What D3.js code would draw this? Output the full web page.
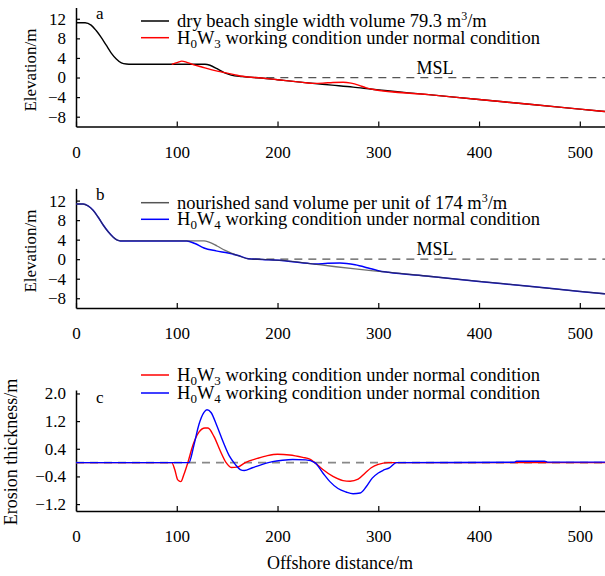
<!DOCTYPE html>
<html>
<head>
<meta charset="utf-8">
<script src="https://cdn.jsdelivr.net/npm/d3@7"></script>
<style>
  body { margin: 0; background: #fff; }
  svg text { font-family: "Liberation Serif", "Times New Roman", serif; }
</style>
</head>
<body>
<div id="chart"></div>
<script>
'use strict';

// panel a: profiles (offshore distance / elevation)
var dryBeachX = [0, 9, 15, 20, 25, 30, 35, 40, 45, 50, 55, 128, 133, 140, 147, 154, 165, 184, 200, 225, 254, 275, 294, 350, 400, 450, 500, 525];
var dryBeachY = [11.2, 11.2, 10.7, 9.6, 8.2, 6.6, 5.0, 3.8, 3.0, 2.75, 2.7, 2.7, 2.5, 1.8, 1.0, 0.5, 0.2, -0.1, -0.45, -1.0, -1.55, -1.95, -2.4, -3.5, -4.5, -5.45, -6.45, -6.95];
var h0w3ProfX = [95, 101, 105, 110, 117, 124, 134, 144, 157, 165, 184, 200, 225, 235, 245, 255, 265, 273, 281, 288, 294, 350, 400, 450, 500, 525];
var h0w3ProfY = [2.7, 3.1, 3.35, 3.1, 2.6, 2.2, 1.6, 1.15, 0.6, 0.25, -0.1, -0.45, -1.0, -1.2, -1.15, -1.0, -0.95, -1.15, -1.6, -2.1, -2.4, -3.5, -4.5, -5.45, -6.45, -6.95];

// panel b
var nourishedX = [0, 7, 12, 17, 22, 27, 32, 37, 41, 44, 127, 132, 140, 148, 156, 164, 171, 185, 204, 230, 254, 277, 304, 350, 400, 450, 500, 525];
var nourishedY = [11.3, 11.3, 10.9, 10.0, 8.6, 7.0, 5.6, 4.5, 3.9, 3.75, 3.75, 3.5, 2.7, 1.8, 1.1, 0.5, 0.06, -0.05, -0.25, -0.85, -1.45, -2.0, -2.55, -3.5, -4.55, -5.55, -6.6, -7.1];
var h0w4ProfX = [0, 7, 12, 17, 22, 27, 32, 37, 41, 44, 110, 118, 127, 139, 151, 161, 171, 185, 204, 230, 237, 250, 262, 277, 290, 300, 310, 350, 400, 450, 500, 525];
var h0w4ProfY = [11.3, 11.3, 10.9, 10.0, 8.6, 7.0, 5.6, 4.5, 3.9, 3.75, 3.75, 3.2, 2.3, 1.7, 1.25, 0.75, 0.1, -0.05, -0.25, -0.85, -1.0, -0.85, -0.8, -1.15, -1.8, -2.35, -2.7, -3.5, -4.55, -5.55, -6.6, -7.1];

// panel c: erosion thickness
var h0w3ErosX = [0, 95, 98, 101, 104, 107, 111, 116, 122, 128, 131, 137, 143, 149, 154, 160, 168, 180, 190, 200, 212, 225, 232, 237, 245, 255, 265, 272, 280, 287, 293, 300, 310, 525];
var h0w3ErosY = [0, 0, -0.2, -0.5, -0.55, -0.35, 0, 0.5, 0.88, 1.0, 1.0, 0.75, 0.35, 0.0, -0.14, -0.13, 0, 0.12, 0.2, 0.24, 0.22, 0.15, 0.1, 0, -0.2, -0.4, -0.52, -0.54, -0.48, -0.3, -0.15, -0.05, 0, 0];
var h0w4ErosX = [0, 112, 117, 122, 127, 130, 134, 140, 146, 152, 158, 163, 167, 175, 185, 195, 205, 215, 228, 237, 245, 252, 260, 268, 275, 282, 288, 294, 300, 305, 311, 318, 435, 437, 465, 468, 525];
var h0w4ErosY = [0, 0, 0.5, 1.1, 1.45, 1.53, 1.45, 1.05, 0.6, 0.2, -0.05, -0.2, -0.23, -0.15, -0.05, 0.03, 0.07, 0.09, 0.08, 0, -0.3, -0.55, -0.75, -0.85, -0.9, -0.88, -0.7, -0.45, -0.3, -0.22, -0.15, 0, 0.01, 0.04, 0.04, 0.015, 0.015];

var mslX = [175, 525];
var xTicks = [0, 100, 200, 300, 400, 500];
var elevTicks = [12, 8, 4, 0, -4, -8];
var erosTicks = [2.0, 1.2, 0.4, -0.4, -1.2];

var width = 605, height = 576;
var svg = d3.select("#chart").append("svg")
    .attr("width", width)
    .attr("height", height);

var x = d3.scaleLinear().domain([0, 525]).range([76, 605]);

function zip(xs, ys) {
    return xs.map(function (d, i) { return [d, ys[i]]; });
}

function fmtMinus(s) { return String(s).replace("-", "\u2212"); }

function drawPanel(opt) {
    var y = d3.scaleLinear().domain(opt.yDomain).range(opt.yRange);
    var g = svg.append("g");

    g.append("g")
        .attr("transform", "translate(0," + opt.yRange[0] + ")")
        .call(d3.axisBottom(x).tickValues(xTicks).tickSizeInner(-5).tickSizeOuter(0).tickPadding(19))
        .call(styleAxis);

    g.append("g")
        .attr("transform", "translate(" + x(0) + ",0)")
        .call(d3.axisLeft(y).tickValues(opt.yTicks).tickSizeInner(-4).tickSizeOuter(0).tickPadding(10)
            .tickFormat(opt.yFormat))
        .call(styleAxis);

    var line = d3.line()
        .x(function (d) { return x(d[0]); })
        .y(function (d) { return y(d[1]); })
        .curve(d3.curveMonotoneX);

    // dashed reference line
    g.append("path")
        .datum(opt.dash.map(function (d) { return [d, 0]; }))
        .attr("d", line)
        .attr("fill", "none")
        .attr("stroke", opt.dashColor)
        .attr("stroke-width", opt.dashWidth)
        .attr("stroke-dasharray", "8,6");

    opt.series.forEach(function (s) {
        g.append("path")
            .datum(zip(s.x, s.y))
            .attr("d", line)
            .attr("fill", "none")
            .attr("stroke", s.color)
            .attr("stroke-opacity", s.opacity || 1)
            .attr("stroke-width", s.width);
    });

    if (opt.msl) {
        g.append("text")
            .attr("x", 435).attr("y", opt.msl)
            .attr("text-anchor", "middle")
            .style("font-size", "18px")
            .text("MSL");
    }

    g.append("text")
        .attr("x", 96).attr("y", opt.letterY)
        .style("font-size", "17px")
        .text(opt.letter);

    // legend
    opt.series.slice().sort(function (a, b) { return a.order - b.order; }).forEach(function (s, i) {
        var ly = opt.legendY[i];
        g.append("line")
            .attr("x1", 141).attr("x2", 169)
            .attr("y1", ly).attr("y2", ly)
            .attr("stroke", s.legendColor || s.color)
            .attr("stroke-width", 1.5);
        var t = g.append("text")
            .attr("x", 177).attr("y", ly + 6)
            .style("font-size", "18.5px");
        s.label.forEach(function (p) {
            var ts = t.append("tspan").text(p.t);
            if (p.sub) ts.style("font-size", "13px").attr("baseline-shift", "-4px");
            if (p.sup) ts.style("font-size", "12px").attr("baseline-shift", "7px");
        });
    });

    // axis title
    g.append("text")
        .attr("transform", "translate(" + opt.titleX + "," + opt.titleY + ") rotate(-90)")
        .attr("text-anchor", "middle")
        .style("font-size", opt.titleSize || "17px")
        .text(opt.title);
}

function styleAxis(sel) {
    sel.select(".domain").attr("stroke", "#000").attr("stroke-width", 1.5);
    sel.selectAll(".tick line").attr("stroke", "#000").attr("stroke-width", 1.2);
    sel.selectAll(".tick text")
        .attr("fill", "#000")
        .style("font-family", "Liberation Serif, serif")
        .style("font-size", "17px");
}

var elevFormat = function (d) { return fmtMinus(d); };
var erosFormat = function (d) { return fmtMinus(d3.format(".1f")(d)); };

function hw(n) {
    return [{ t: "H" }, { t: "0", sub: true }, { t: "W" }, { t: n, sub: true }, { t: " working condition under normal condition" }];
}

drawPanel({
    yDomain: [-10, 14.3], yRange: [126.5, 7.5],
    yTicks: elevTicks, yFormat: elevFormat,
    dash: mslX, dashColor: "#555", dashWidth: 1.2, msl: 74,
    letter: "a", letterY: 18.5,
    legendY: [21, 37.7],
    title: "Elevation/m", titleX: 36, titleY: 70,
    series: [
        { x: dryBeachX, y: dryBeachY, color: "#000", width: 1.4, order: 0,
          label: [{ t: "dry beach single width volume 79.3 m" }, { t: "3", sup: true }, { t: "/m" }] },
        { x: h0w3ProfX, y: h0w3ProfY, color: "#ff0000", width: 1.4, order: 1, label: hw("3") }
    ]
});

drawPanel({
    yDomain: [-10, 14.5], yRange: [308, 188.4],
    yTicks: elevTicks, yFormat: elevFormat,
    dash: mslX, dashColor: "#555", dashWidth: 1.2, msl: 255,
    letter: "b", letterY: 200,
    legendY: [202.7, 219.3],
    title: "Elevation/m", titleX: 36, titleY: 251,
    series: [
        { x: h0w4ProfX, y: h0w4ProfY, color: "#0000ff", width: 1.5, order: 1, label: hw("4") },
        { x: nourishedX, y: nourishedY, color: "#333", opacity: 0.7, legendColor: "#555", width: 1.3, order: 0,
          label: [{ t: "nourished sand volume per unit of 174 m" }, { t: "3", sup: true }, { t: "/m" }] }
    ]
});

drawPanel({
    yDomain: [-1.4, 2.1], yRange: [511, 390],
    yTicks: erosTicks, yFormat: erosFormat,
    dash: [0, 525], dashColor: "#888", dashWidth: 1.6,
    letter: "c", letterY: 402.7,
    legendY: [375, 393],
    title: "Erosion thickness/m", titleX: 17, titleY: 452, titleSize: "18px",
    series: [
        { x: h0w3ErosX, y: h0w3ErosY, color: "#ff0000", width: 1.4, order: 0, label: hw("3") },
        { x: h0w4ErosX, y: h0w4ErosY, color: "#0000ff", width: 1.4, order: 1, label: hw("4") }
    ]
});

svg.append("text")
    .attr("x", 340).attr("y", 569)
    .attr("text-anchor", "middle")
    .style("font-size", "18px")
    .text("Offshore distance/m");
</script>
</body>
</html>
